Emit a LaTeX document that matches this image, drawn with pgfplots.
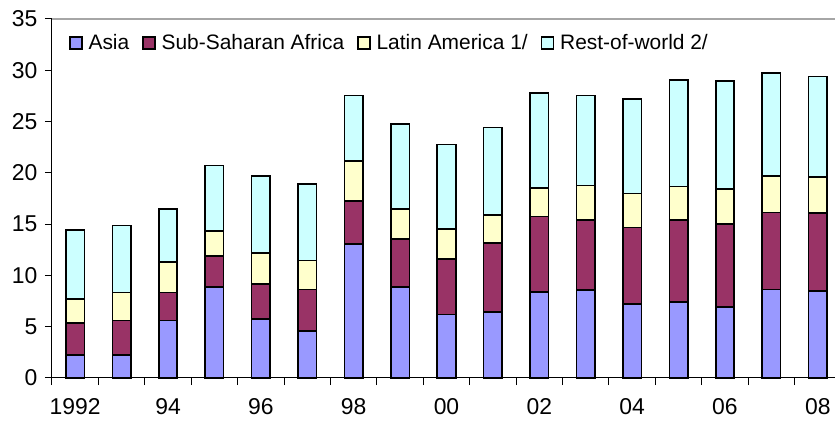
\documentclass[border=0pt]{standalone}
\usepackage{fontspec}
\setmainfont{Liberation Sans}
\usepackage{pgfplots}
\usepackage{pgfplotstable}
\pgfplotsset{compat=1.18}
\definecolor{cAsia}{HTML}{9999FF}
\definecolor{cSSA}{HTML}{993366}
\definecolor{cLA}{HTML}{FFFFCC}
\definecolor{cRow}{HTML}{CCFFFF}
\pgfplotstableread{
x asia ssa la row
0 2.24 3.12 2.34 6.73
1 2.24 3.38 2.73 6.53
2 5.59 2.76 2.96 5.16
3 8.87 3.05 2.41 6.40
4 5.75 3.41 3.02 7.54
5 4.61 4.00 2.83 7.47
6 13.06 4.22 3.87 6.40
7 8.87 4.71 2.89 8.29
8 6.21 5.39 2.92 8.25
9 6.43 6.73 2.73 8.54
10 8.41 7.35 2.76 9.29
11 8.58 6.85 3.35 8.77
12 7.24 7.44 3.29 9.22
13 7.41 7.99 3.28 10.36
14 6.95 8.09 3.38 10.56
15 8.64 7.51 3.54 10.04
16 8.48 7.60 3.54 9.78
}\datatable
\begin{document}
\begin{tikzpicture}
\begin{axis}[
  at={(0,0)}, anchor=south west,
  scale only axis,
  width=789bp, height=359bp,
  ybar stacked,
  bar width=18.5bp,
  xmin=-0.5, xmax=16.5,
  ymin=0, ymax=35,
  ytick={0,5,...,35},
  xtick={0,2,...,16},
  xticklabels={1992,94,96,98,00,02,04,06,08},
  minor xtick={-0.5,0.5,...,16.5},
  major x tick style={draw=none},
  tick align=outside,
  major tick length=7bp,
  minor tick length=7bp,
  every tick/.style={black, line width=1bp},
  axis x line*=bottom,
  axis y line*=left,
  axis line style={-, black, line width=1bp},
  /pgf/number format/assume math mode=true,
  ticklabel style={font=\fontsize{23}{27}\selectfont},
  xticklabel style={yshift=-10bp},
  yticklabel style={xshift=-4bp},
  legend columns=-1,
  legend style={draw=none, fill=none, inner sep=0pt,
    at={(rel axis cs:0.0215,0.933)}, anchor=west,
    font=\fontsize{21}{25}\selectfont,
    /tikz/every odd column/.append style={column sep=4bp},
    /tikz/every even column/.append style={column sep=11bp}},
  legend image code/.code={\draw[#1, draw=black, line width=1.4bp] (0bp,-6bp) rectangle (12bp,6bp);},
  clip=false,
]
\addplot[fill=cAsia, draw=black, line width=1.6bp] table[x=x,y=asia]{\datatable};
\addplot[fill=cSSA, draw=black, line width=1.6bp] table[x=x,y=ssa]{\datatable};
\addplot[fill=cLA, draw=black, line width=1.6bp] table[x=x,y=la]{\datatable};
\addplot[fill=cRow, draw=black, line width=1.6bp] table[x=x,y=row]{\datatable};
\legend{Asia,Sub-Saharan Africa,Latin America 1/,Rest-of-world 2/}
\draw[gray!70, line width=1.4bp] (rel axis cs:0,1) -- (rel axis cs:1,1);
\end{axis}
\pgfresetboundingbox
\useasboundingbox (-52bp,-45bp) rectangle (783bp,378bp);
\end{tikzpicture}
\end{document}
